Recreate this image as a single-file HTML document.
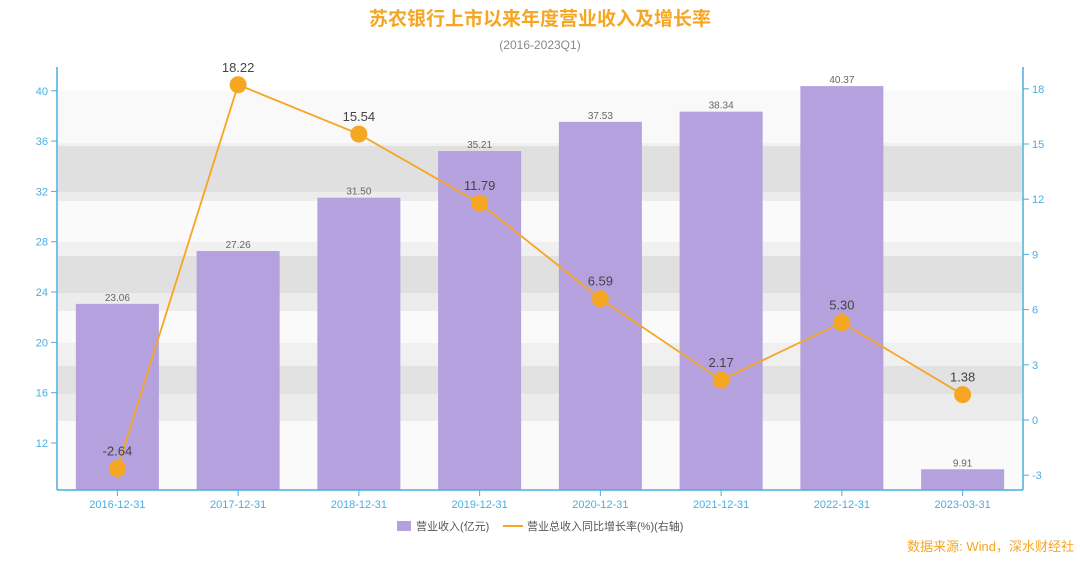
<!DOCTYPE html>
<html><head><meta charset="utf-8"><style>
body{margin:0;background:#fff;}
svg text{font-family:"Liberation Sans","Noto Sans CJK SC",sans-serif;}
</style></head><body>
<svg width="1080" height="559" xmlns="http://www.w3.org/2000/svg" id="chart">
<rect width="1080" height="559" fill="#fff"/>
<text x="540" y="25" text-anchor="middle" font-size="19" font-weight="bold" fill="#f5a623">苏农银行上市以来年度营业收入及增长率</text>
<text x="540" y="49" text-anchor="middle" font-size="12" fill="#888">(2016-2023Q1)</text>
<g id="bands"></g>
<g id="grid"></g>
<g id="bars"></g>
<g id="line"></g>
<g id="axes"></g>
<g>
<rect x="397" y="521" width="14" height="10" fill="#b5a1de"/>
<text x="416" y="530" font-size="11" fill="#555">营业收入(亿元)</text>
<line x1="503" y1="526" x2="523" y2="526" stroke="#f5a623" stroke-width="2"/>
<text x="527" y="530" font-size="11" fill="#555">营业总收入同比增长率(%)(右轴)</text>
</g>
<text x="1074" y="551" text-anchor="end" font-size="13" fill="#f5a623">数据来源: Wind，深水财经社</text>
</svg>
<script>
const categories=["2016-12-31","2017-12-31","2018-12-31","2019-12-31","2020-12-31","2021-12-31","2022-12-31","2023-03-31"];
const revenue=[23.06,27.26,31.50,35.21,37.53,38.34,40.37,9.91];
const growth=[-2.64,18.22,15.54,11.79,6.59,2.17,5.30,1.38];
const leftTicks=[12,16,20,24,28,32,36,40];
const rightTicks=[-3,0,3,6,9,12,15,18];
const NS="http://www.w3.org/2000/svg";
const X0=57,X1=1023,YB=490,YT=67;
const bw=(X1-X0)/categories.length;
const xc=i=>X0+bw*(i+0.5);
const yL=v=>443-(v-12)*12.58;
const yR=v=>420-v*18.4;
function mk(p,t,a){const e=document.createElementNS(NS,t);for(const k in a)e.setAttribute(k,a[k]);document.getElementById(p).appendChild(e);return e;}
// background bands (watermark style)
[[91,143,"#f9f9f9"],[143,146,"#f0f0f0"],[146,192,"#e0e0e0"],[192,201,"#ececec"],[201,242,"#fafafa"],[242,256,"#f0f0f0"],[256,293,"#e0e0e0"],[293,311,"#ececec"],[311,343,"#fafafa"],[343,366,"#f0f0f0"],[366,394,"#e2e2e2"],[394,421,"#ececec"],[421,490,"#fafafa"]].forEach(b=>{
 const r=mk("bands","rect",{x:X0+1,y:b[0],width:X1-X0-2,height:b[1]-b[0],fill:b[2]});
 
 
});
revenue.forEach((v,i)=>{
 const w=83,y=yL(v);
 const r=mk("bars","rect",{x:xc(i)-w/2,y:y,width:w,height:YB-y,fill:"#b5a1de"});
 
 
 const t=mk("bars","text",{x:xc(i),y:y-3,"text-anchor":"middle","font-size":10,fill:"#666"});
 t.textContent=v.toFixed(2);
 
 
});
const pl=mk("line","polyline",{points:growth.map((v,i)=>xc(i)+","+yR(v)).join(" "),fill:"none",stroke:"#f5a623","stroke-width":1.8});


growth.forEach((v,i)=>{
 const c=mk("line","circle",{cx:xc(i),cy:yR(v),r:8.5,fill:"#f5a623"});
 
 
 const t=mk("line","text",{x:xc(i),y:yR(v)-13,"text-anchor":"middle","font-size":13,fill:"#444"});
 t.textContent=v.toFixed(2);
 
 
});
const ac="#4aaee0";
let e=mk("axes","line",{x1:X0,y1:YT,x2:X0,y2:YB,stroke:ac,"stroke-width":1.5});


e=mk("axes","line",{x1:X1,y1:YT,x2:X1,y2:YB,stroke:ac,"stroke-width":1.5});


e=mk("axes","line",{x1:X0,y1:YB,x2:X1,y2:YB,stroke:ac,"stroke-width":1.5});


leftTicks.forEach(v=>{
 mk("axes","line",{x1:X0-6,y1:yL(v),x2:X0,y2:yL(v),stroke:ac});
 const t=mk("axes","text",{x:X0-9,y:yL(v)+4,"text-anchor":"end","font-size":11,fill:ac});
 t.textContent=v;
 
 
});
rightTicks.forEach(v=>{
 mk("axes","line",{x1:X1,y1:yR(v),x2:X1+6,y2:yR(v),stroke:ac});
 const t=mk("axes","text",{x:X1+9,y:yR(v)+4,"font-size":11,fill:ac});
 t.textContent=v;
 
 
});
categories.forEach((c,i)=>{
 mk("axes","line",{x1:xc(i),y1:YB,x2:xc(i),y2:YB+6,stroke:ac});
 const t=mk("axes","text",{x:xc(i),y:YB+18,"text-anchor":"middle","font-size":11,fill:ac});
 t.textContent=c;
 
 
});
</script>
</body></html>
